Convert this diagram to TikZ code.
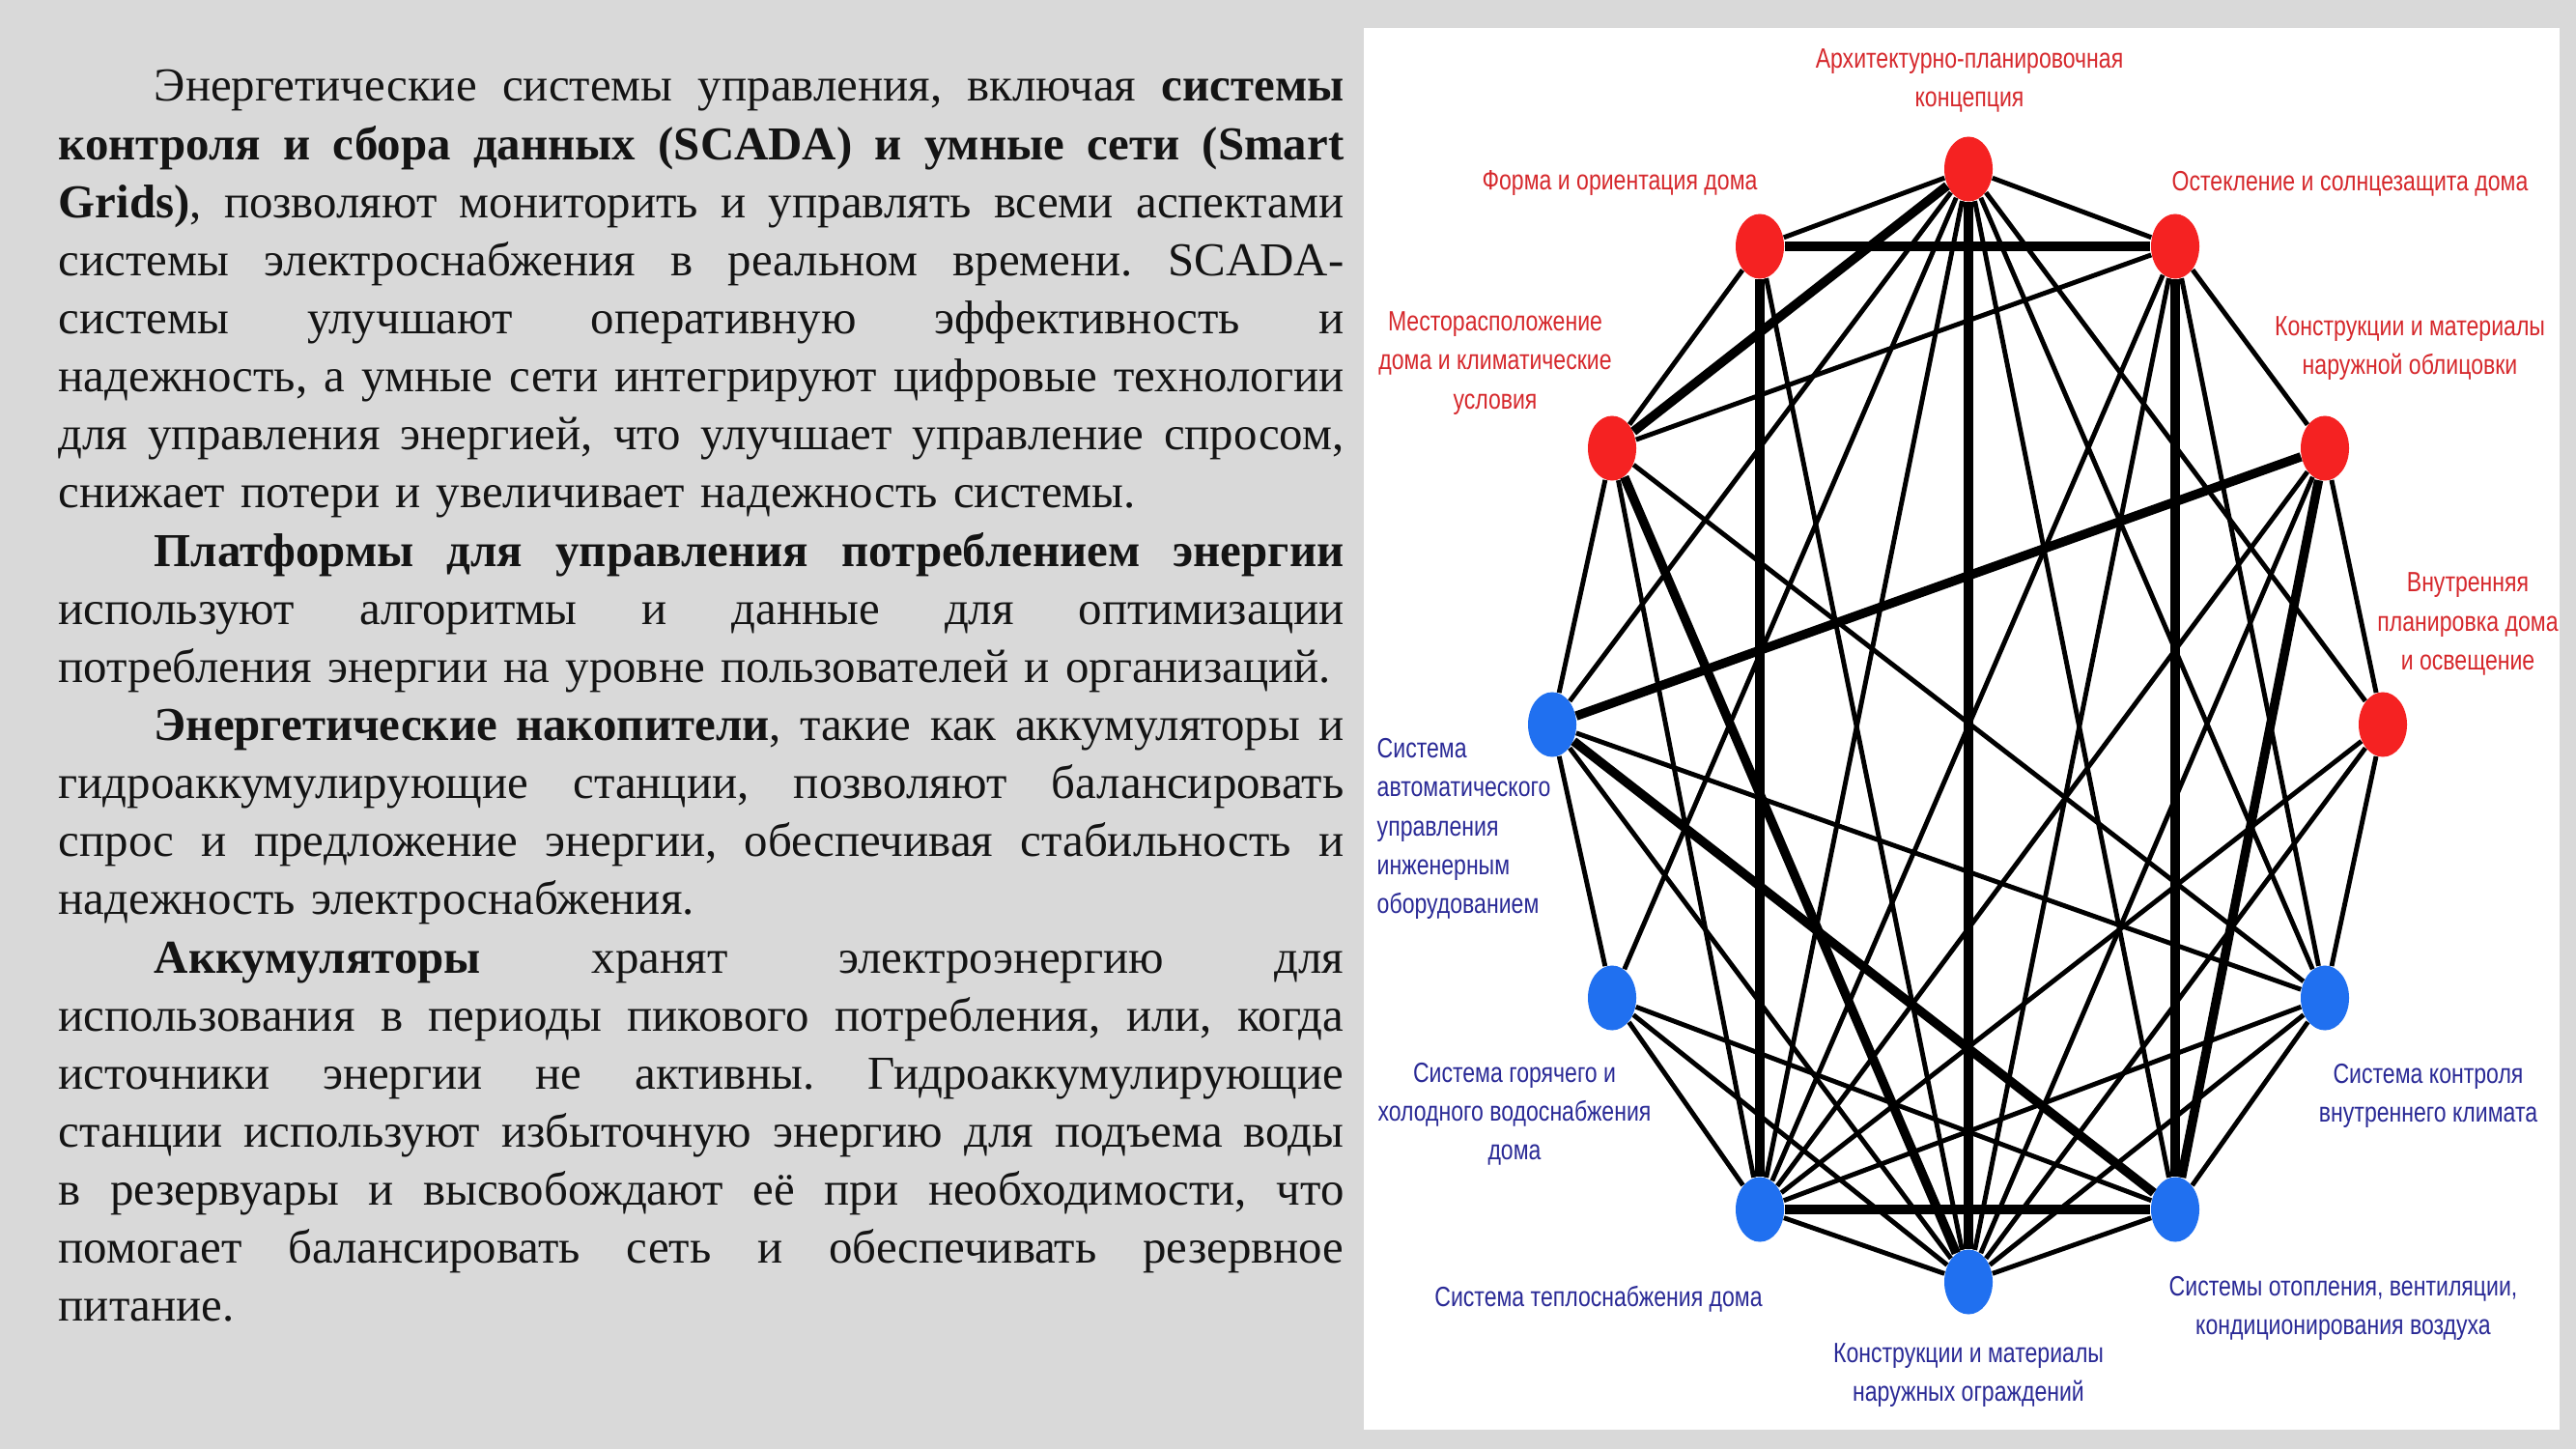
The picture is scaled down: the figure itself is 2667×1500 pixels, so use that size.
\documentclass[tikz,border=0pt]{standalone}
\usepackage{fontspec}
\setmainfont{Liberation Serif}
\newfontfamily\labelfont[FakeStretch=0.8]{Liberation Sans}
\usetikzlibrary{shapes.geometric}

\definecolor{slidegray}{RGB}{217,217,217}
\definecolor{nodered}{RGB}{245,34,34}
\definecolor{nodeblue}{RGB}{32,112,240}
\definecolor{labelred}{RGB}{214,40,44}
\definecolor{labelblue}{RGB}{42,42,150}

\newcommand{\jl}[1]{\noindent\hbox to 13.3cm{\spaceskip=0.25em plus 3em minus 0.08em\relax #1}\par}
\newcommand{\el}[1]{\noindent\hbox{#1}\par}
\newcommand{\ind}{\hskip 0.99cm\relax}

\tikzstyle{redvertex}=[ellipse,fill=nodered,minimum width=0.5cm,minimum height=0.67cm,inner sep=0pt]
\tikzstyle{bluevertex}=[ellipse,fill=nodeblue,minimum width=0.5cm,minimum height=0.67cm,inner sep=0pt]
\tikzstyle{link} = [draw,line width=1.4pt,-]
\tikzstyle{strong link} = [draw,line width=2.7pt,-]
\tikzstyle{redlabel}=[text=labelred,font={\labelfont\fontsize{8.2pt}{11.4pt}\selectfont},align=center,inner sep=0pt]
\tikzstyle{bluelabel}=[text=labelblue,font={\labelfont\fontsize{8.2pt}{11.4pt}\selectfont},align=center,inner sep=0pt]

\begin{document}
\begin{tikzpicture}[x=0.01cm,y=-0.01cm]
			\useasboundingbox (0,0) rectangle (2667,1500);
			\fill[slidegray] (0,0) rectangle (2667,1500);
			\fill[white] (1412,29) rectangle (2650,1480);
			% Text on the left
			\node[anchor=base west,inner sep=0pt,text width=13.3cm,text=black!92,
			      font={\fontsize{13.9pt}{17.1pt}\selectfont\frenchspacing}] (txt) at (60,105) {%
\jl{\ind Энергетические системы управления, включая \textbf{системы}}%
\jl{\textbf{контроля и сбора данных (SCADA) и умные сети (Smart}}%
\jl{\textbf{Grids)}, позволяют мониторить и управлять всеми аспектами}%
\jl{системы электроснабжения в реальном времени. SCADA-}%
\jl{системы улучшают оперативную эффективность и}%
\jl{надежность, а умные сети интегрируют цифровые технологии}%
\jl{для управления энергией, что улучшает управление спросом,}%
\el{снижает потери и увеличивает надежность системы.}%
\jl{\ind\textbf{Платформы для управления потреблением энергии}}%
\jl{используют алгоритмы и данные для оптимизации}%
\el{потребления энергии на уровне пользователей и организаций.}%
\jl{\ind\textbf{Энергетические накопители}, такие как аккумуляторы и}%
\jl{гидроаккумулирующие станции, позволяют балансировать}%
\jl{спрос и предложение энергии, обеспечивая стабильность и}%
\el{надежность электроснабжения.}%
\jl{\ind\textbf{Аккумуляторы} хранят электроэнергию для}%
\jl{использования в периоды пикового потребления, или, когда}%
\jl{источники энергии не активны. Гидроаккумулирующие}%
\jl{станции используют избыточную энергию для подъема воды}%
\jl{в резервуары и высвобождают её при необходимости, что}%
\jl{помогает балансировать сеть и обеспечивать резервное}%
\el{питание.}};
			% First we draw the vertices
			\node[redvertex] (arch) at (2038,175) {};
			\node[redvertex] (form) at (1822,255) {};
			\node[redvertex] (glaz) at (2252,255) {};
			\node[redvertex] (site) at (1669,464) {};
			\node[redvertex] (clad) at (2407,464) {};
			\node[redvertex] (plan) at (2467,750) {};
			\node[bluevertex] (auto) at (1607,750) {};
			\node[bluevertex] (water) at (1669,1033) {};
			\node[bluevertex] (clim) at (2407,1033) {};
			\node[bluevertex] (heat) at (1822,1252) {};
			\node[bluevertex] (hvac) at (2252,1252) {};
			\node[bluevertex] (encl) at (2038,1327) {};
			% Connect vertices with edges
			\foreach \source/ \dest in {arch/form, arch/glaz, arch/auto, arch/water, arch/heat,
			        arch/hvac, arch/clim, arch/plan, form/site, form/encl, glaz/site, glaz/clad,
			        glaz/clim, glaz/encl, glaz/heat, site/auto, site/clim, site/heat, clad/plan,
			        clad/heat, clad/encl, plan/clim, plan/heat, plan/encl, auto/water, auto/clim,
			        auto/encl, water/hvac, water/encl, water/heat, clim/hvac, clim/encl,
			        clim/heat, heat/encl, hvac/encl}
				\path[link] (\source) -- (\dest);
			\foreach \source/ \dest in {arch/site, arch/encl, form/glaz, form/heat, glaz/hvac,
			        site/encl, clad/auto, clad/hvac, auto/hvac, heat/hvac}
				\path[strong link] (\source) -- (\dest);
			% Labels
			\node[redlabel] (archlab) at (2039,83) {Архитектурно-планировочная\\концепция};
			\node[redlabel] (formlab) at (1677,190) {Форма и ориентация дома};
			\node[redlabel] (glazlab) at (2433,190) {Остекление и солнцезащита дома};
			\node[redlabel] (sitelab) at (1548,376) {Месторасположение\\дома и климатические\\условия};
			\node[redlabel] (cladlab) at (2495,361) {Конструкции и материалы\\наружной облицовки};
			\node[redlabel] (planlab) at (2555,646) {Внутренняя\\планировка дома\\и освещение};
			\node[bluelabel,anchor=west,align=left] (autolab) at (1425,858) {Система\\автоматического\\управления\\инженерным\\оборудованием};
			\node[bluelabel] (waterlab) at (1568,1153) {Система горячего и\\холодного водоснабжения\\дома};
			\node[bluelabel] (climlab) at (2514,1134) {Система контроля\\внутреннего климата};
			\node[bluelabel] (heatlab) at (1655,1345) {Система теплоснабжения дома};
			\node[bluelabel] (hvaclab) at (2426,1354) {Системы отопления, вентиляции,\\кондиционирования воздуха};
			\node[bluelabel] (encllab) at (2038,1424) {Конструкции и материалы\\наружных ограждений};
\end{tikzpicture}
\end{document}
